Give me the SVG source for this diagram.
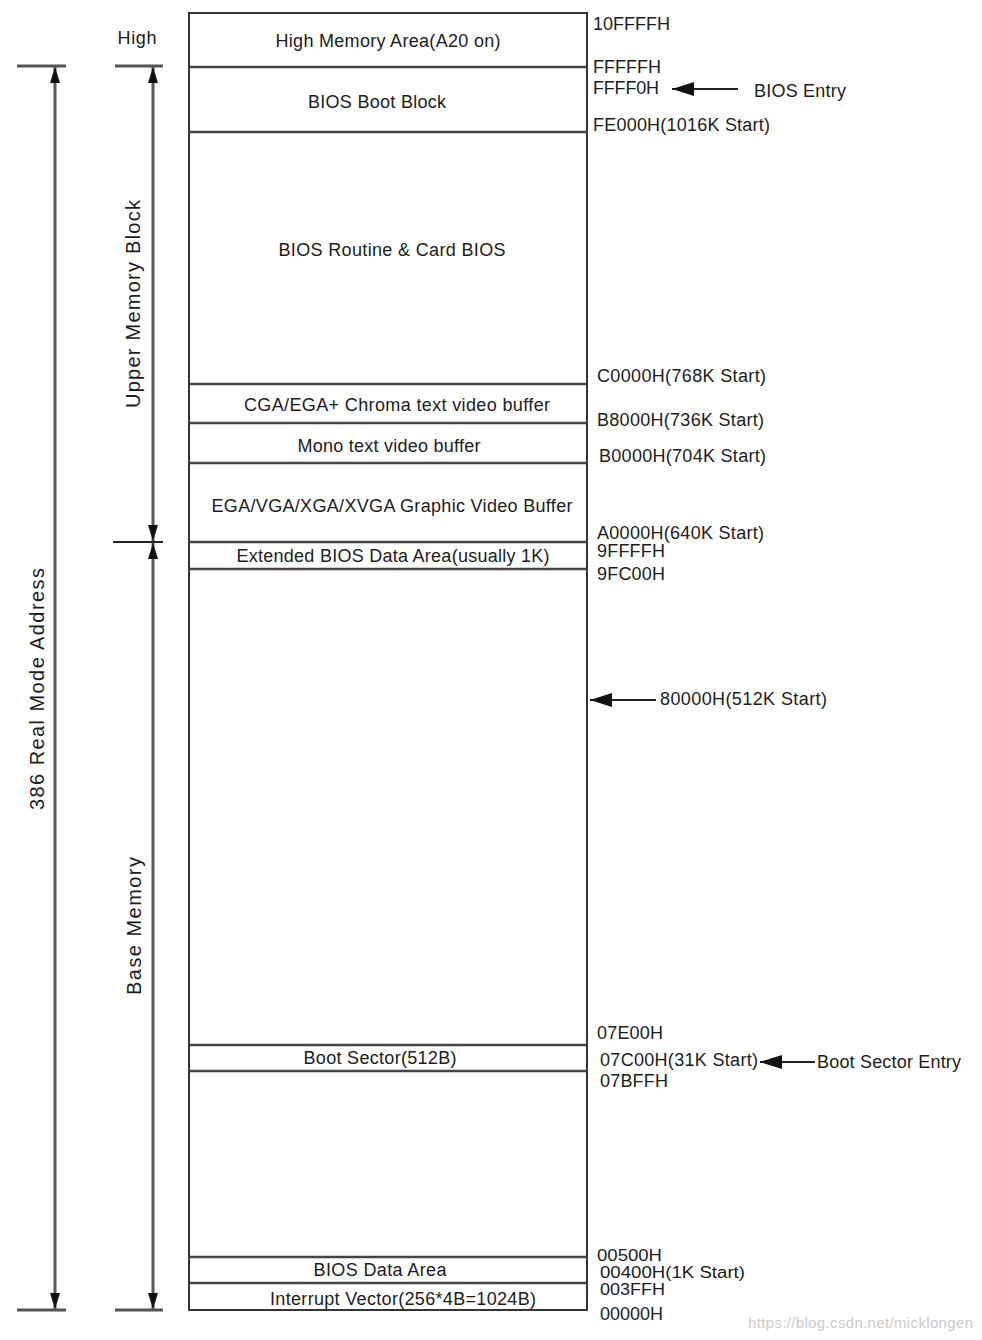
<svg xmlns="http://www.w3.org/2000/svg" width="982" height="1340" viewBox="0 0 982 1340">
<style>
text{font-family:"Liberation Sans",Arial,sans-serif;font-size:18px;fill:#1c1c1c}
.c{text-anchor:middle}
.v{font-size:20px}
.s{font-size:16px}
.box{fill:#fff;stroke:#333;stroke-width:2}
.sep{stroke:#444;stroke-width:2.5}
.dim{stroke:#5a5a5a;stroke-width:3;fill:none}
.tick{stroke:#555;stroke-width:3}
.ptr{stroke:#222;stroke-width:2}
.wm{font-size:15px;fill:#c8c8c8}
</style>
<defs>
<marker id="ah" viewBox="0 0 16 10" refX="16" refY="5" markerWidth="16" markerHeight="10" markerUnits="userSpaceOnUse" orient="auto-start-reverse">
<path d="M0,0 L16,5 L0,10 Z" fill="#111"/>
</marker>
<marker id="pa" viewBox="0 0 22 14" refX="22" refY="7" markerWidth="22" markerHeight="14" markerUnits="userSpaceOnUse" orient="auto">
<path d="M0,0 L22,7 L0,14 Z" fill="#111"/>
</marker>
</defs>
<rect width="982" height="1340" fill="#fff"/>

<g id="memory-map">
<rect class="box" x="189" y="13" width="398" height="1297"/>
<line class="sep" x1="189" y1="67" x2="587" y2="67"/>
<line class="sep" x1="189" y1="132" x2="587" y2="132"/>
<line class="sep" x1="189" y1="384" x2="587" y2="384"/>
<line class="sep" x1="189" y1="423" x2="587" y2="423"/>
<line class="sep" x1="189" y1="463" x2="587" y2="463"/>
<line class="sep" x1="189" y1="542" x2="587" y2="542"/>
<line class="sep" x1="189" y1="569" x2="587" y2="569"/>
<line class="sep" x1="189" y1="1045" x2="587" y2="1045"/>
<line class="sep" x1="189" y1="1071" x2="587" y2="1071"/>
<line class="sep" x1="189" y1="1257" x2="587" y2="1257"/>
<line class="sep" x1="189" y1="1283" x2="587" y2="1283"/>
</g>

<g id="region-hma"><text class="c" x="388" y="47" textLength="225">High Memory Area(A20 on)</text></g>
<g id="region-bios-boot"><text class="c" x="377" y="108" textLength="138">BIOS Boot Block</text></g>
<g id="region-bios-routine"><text class="c" x="392" y="256" textLength="227">BIOS Routine &amp; Card BIOS</text></g>
<g id="region-cga"><text class="c" x="397" y="411" textLength="306">CGA/EGA+ Chroma text video buffer</text></g>
<g id="region-mono"><text class="c" x="389" y="452" textLength="183">Mono text video buffer</text></g>
<g id="region-vga"><text class="c" x="392" y="512" textLength="361">EGA/VGA/XGA/XVGA Graphic Video Buffer</text></g>
<g id="region-ebda"><text class="c" x="393" y="562" textLength="313">Extended BIOS Data Area(usually 1K)</text></g>
<g id="region-boot-sector"><text class="c" x="380" y="1064" textLength="153">Boot Sector(512B)</text></g>
<g id="region-bda"><text class="c" x="380" y="1276" textLength="133">BIOS Data Area</text></g>
<g id="region-ivt"><text class="c" x="403" y="1305" textLength="266">Interrupt Vector(256*4B=1024B)</text></g>

<g id="addresses">
<text x="593" y="30" textLength="77">10FFFFH</text>
<text x="593" y="73" textLength="68">FFFFFH</text>
<text x="593" y="94" textLength="66">FFFF0H</text>
<text x="593" y="131" textLength="177">FE000H(1016K Start)</text>
<text x="597" y="382" textLength="169">C0000H(768K Start)</text>
<text x="597" y="426" textLength="167">B8000H(736K Start)</text>
<text x="599" y="462" textLength="167">B0000H(704K Start)</text>
<text x="597" y="539" textLength="167">A0000H(640K Start)</text>
<text x="597" y="557" textLength="68">9FFFFH</text>
<text x="597" y="580" textLength="68">9FC00H</text>
<text x="660" y="705" textLength="167">80000H(512K Start)</text>
<text x="597" y="1039" textLength="66">07E00H</text>
<text x="600" y="1066" textLength="158">07C00H(31K Start)</text>
<text x="600" y="1087" textLength="68">07BFFH</text>
<text class="s" x="597" y="1261" textLength="65" lengthAdjust="spacingAndGlyphs">00500H</text>
<text class="s" x="600" y="1278" textLength="145" lengthAdjust="spacingAndGlyphs">00400H(1K Start)</text>
<text class="s" x="600" y="1295" textLength="65" lengthAdjust="spacingAndGlyphs">003FFH</text>
<text x="600" y="1320" textLength="63">00000H</text>
</g>

<g id="entry-labels">
<text x="754" y="97" textLength="92">BIOS Entry</text>
<text x="817" y="1068" textLength="144">Boot Sector Entry</text>
</g>

<g id="side-labels">
<text class="c" x="137" y="44" textLength="39">High</text>
<text class="c v" transform="translate(140,304) rotate(-90)" textLength="208">Upper Memory Block</text>
<text class="c v" transform="translate(141,926) rotate(-90)" textLength="138">Base Memory</text>
<text class="c v" transform="translate(44,689) rotate(-90)" textLength="242">386 Real Mode Address</text>
</g>

<g id="connectors">
<line class="tick" x1="17" y1="66" x2="66" y2="66"/>
<line class="tick" x1="17" y1="1310" x2="66" y2="1310"/>
<line class="dim" x1="55" y1="67" x2="55" y2="1309" marker-start="url(#ah)" marker-end="url(#ah)"/>
<line class="tick" x1="115" y1="66" x2="163" y2="66"/>
<line class="tick" x1="113" y1="542" x2="163" y2="542" style="stroke:#222;stroke-width:2"/>
<line class="tick" x1="115" y1="1310" x2="163" y2="1310"/>
<line class="dim" x1="153" y1="67" x2="153" y2="541" marker-start="url(#ah)" marker-end="url(#ah)"/>
<line class="dim" x1="153" y1="543" x2="153" y2="1309" marker-start="url(#ah)" marker-end="url(#ah)"/>
<line class="ptr" x1="738" y1="89" x2="672" y2="89" marker-end="url(#pa)"/>
<line class="ptr" x1="656" y1="700" x2="590" y2="700" marker-end="url(#pa)"/>
<line class="ptr" x1="815" y1="1062" x2="760" y2="1062" marker-end="url(#pa)"/>
</g>

<text class="wm" x="748" y="1328" textLength="225">https://blog.csdn.net/micklongen</text>
</svg>
